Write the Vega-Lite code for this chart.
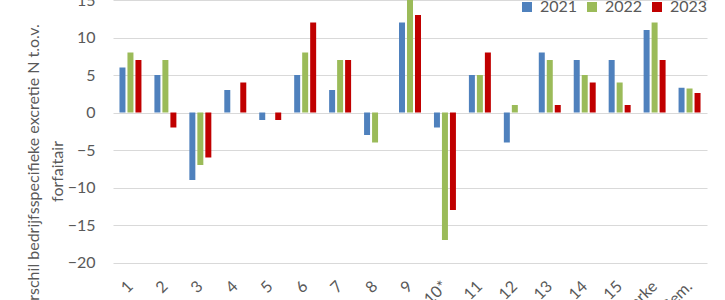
{
  "$schema": "https://vega.github.io/schema/vega-lite/v6.json",
  "width": 594,
  "height": 262.5,
  "autosize": {"type": "none"},
  "padding": {"left": 113, "top": 0, "right": 18, "bottom": 37.5},
  "background": "white",
  "config": {"view": {"stroke": null}, "font": "Lato"},
  "data": {
    "values": [
      {"cat": "1", "year": "2021", "value": 6}, {"cat": "1", "year": "2022", "value": 8}, {"cat": "1", "year": "2023", "value": 7},
      {"cat": "2", "year": "2021", "value": 5}, {"cat": "2", "year": "2022", "value": 7}, {"cat": "2", "year": "2023", "value": -2},
      {"cat": "3", "year": "2021", "value": -9}, {"cat": "3", "year": "2022", "value": -7}, {"cat": "3", "year": "2023", "value": -6},
      {"cat": "4", "year": "2021", "value": 3}, {"cat": "4", "year": "2022", "value": 0}, {"cat": "4", "year": "2023", "value": 4},
      {"cat": "5", "year": "2021", "value": -1}, {"cat": "5", "year": "2022", "value": 0}, {"cat": "5", "year": "2023", "value": -1},
      {"cat": "6", "year": "2021", "value": 5}, {"cat": "6", "year": "2022", "value": 8}, {"cat": "6", "year": "2023", "value": 12},
      {"cat": "7", "year": "2021", "value": 3}, {"cat": "7", "year": "2022", "value": 7}, {"cat": "7", "year": "2023", "value": 7},
      {"cat": "8", "year": "2021", "value": -3}, {"cat": "8", "year": "2022", "value": -4}, {"cat": "8", "year": "2023", "value": 0},
      {"cat": "9", "year": "2021", "value": 12}, {"cat": "9", "year": "2022", "value": 15}, {"cat": "9", "year": "2023", "value": 13},
      {"cat": "10*", "year": "2021", "value": -2}, {"cat": "10*", "year": "2022", "value": -17}, {"cat": "10*", "year": "2023", "value": -13},
      {"cat": "11", "year": "2021", "value": 5}, {"cat": "11", "year": "2022", "value": 5}, {"cat": "11", "year": "2023", "value": 8},
      {"cat": "12", "year": "2021", "value": -4}, {"cat": "12", "year": "2022", "value": 1}, {"cat": "12", "year": "2023", "value": 0},
      {"cat": "13", "year": "2021", "value": 8}, {"cat": "13", "year": "2022", "value": 7}, {"cat": "13", "year": "2023", "value": 1},
      {"cat": "14", "year": "2021", "value": 7}, {"cat": "14", "year": "2022", "value": 5}, {"cat": "14", "year": "2023", "value": 4},
      {"cat": "15", "year": "2021", "value": 7}, {"cat": "15", "year": "2022", "value": 4}, {"cat": "15", "year": "2023", "value": 1},
      {"cat": "De Marke", "year": "2021", "value": 11}, {"cat": "De Marke", "year": "2022", "value": 12}, {"cat": "De Marke", "year": "2023", "value": 7},
      {"cat": "Gem.", "year": "2021", "value": 3.3}, {"cat": "Gem.", "year": "2022", "value": 3.2}, {"cat": "Gem.", "year": "2023", "value": 2.6}
    ]
  },
  "mark": {"type": "bar"},
  "encoding": {
    "x": {
      "field": "cat", "type": "nominal", "sort": null,
      "scale": {"paddingInner": 0.371, "paddingOuter": 0.185},
      "axis": {"title": null, "labelAngle": -45, "labelAlign": "right", "labelBaseline": "middle", "labelPadding": 21, "ticks": false, "domain": false, "labelFontSize": 16, "labelColor": "#595959", "labelOverlap": false, "grid": false}
    },
    "xOffset": {"field": "year", "type": "nominal", "scale": {"paddingInner": 0.25, "paddingOuter": 0}},
    "y": {
      "field": "value", "type": "quantitative",
      "scale": {"domain": [-20, 15], "nice": false, "zero": false},
      "axis": {
        "values": [-20, -15, -10, -5, 0, 5, 10, 15],
        "title": ["Verschil bedrijfsspecifieke excretie N t.o.v.", "forfaitair"],
        "titleX": -80, "titleY": 171, "titleAngle": -90, "titleAlign": "center", "titleBaseline": "middle", "titleLineHeight": 24,
        "titleFontWeight": "normal", "titleFontSize": 16, "titleColor": "#595959",
        "labelFontSize": 16, "labelColor": "#595959", "labelPadding": 18,
        "ticks": false, "domain": false, "grid": true, "gridColor": "#d9d9d9", "gridWidth": 1
      }
    },
    "color": {
      "field": "year", "type": "nominal",
      "scale": {"domain": ["2021", "2022", "2023"], "range": ["#4F81BD", "#9BBB59", "#C00000"]},
      "legend": {"orient": "none", "legendX": 406, "legendY": -1, "direction": "horizontal", "title": null, "symbolType": "square", "symbolSize": 100, "labelFontSize": 16, "labelColor": "#595959", "columnPadding": 6, "labelOffset": 5, "symbolStrokeWidth": 0}
    }
  }
}
